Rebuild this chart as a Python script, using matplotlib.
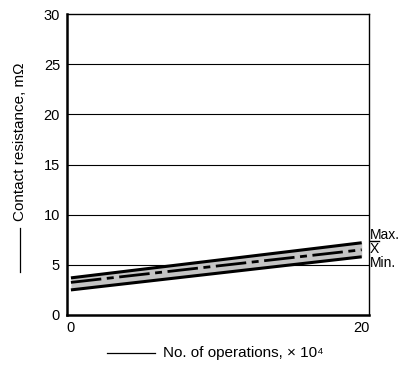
import matplotlib
matplotlib.use("Agg")
from matplotlib import pyplot as plt
from matplotlib.lines import Line2D

plt.rcParams['font.family'] = ['Liberation Sans', 'DejaVu Sans']

# contact resistance vs. operations (x 10^4)
ops = [0, 20]
r_max = [3.7, 7.2]
r_mean = [3.25, 6.5]
r_min = [2.5, 5.8]
y_ticks = [0, 5, 10, 15, 20, 25, 30]
x_ticks = [0, 20]

fig = plt.figure(figsize=(4.05, 3.65), dpi=100)
ax = fig.add_axes([0.1654, 0.137, 0.7457, 0.8246])

for y in y_ticks[1:-1]:
    ax.axhline(y, color='black', lw=0.8, zorder=1)

ax.fill_between(ops, r_min, r_max, color='#c4c4c4', lw=0, zorder=2)
ax.plot(ops, r_max, color='black', lw=2.2, solid_capstyle='butt', zorder=3)
ax.plot(ops, r_min, color='black', lw=2.2, solid_capstyle='butt', zorder=3)
ax.plot(ops, r_mean, color='black', lw=2.0, linestyle=(0, (11, 2, 2.5, 2)),
        zorder=3)

ax.set_xlim(-0.27, 20.5)
ax.set_ylim(0, 30)
ax.set_yticks(y_ticks)
ax.set_xticks(x_ticks)
ax.tick_params(length=0, labelsize=10.5, pad=5)
ax.tick_params(axis='x', pad=4)

ax.spines['left'].set_linewidth(1.8)
ax.spines['bottom'].set_linewidth(1.8)
ax.spines['top'].set_linewidth(1.0)
ax.spines['right'].set_linewidth(1.0)

# end labels; the bar over X is drawn as its own line
ax.text(20.55, 8.0, 'Max.', fontsize=10, va='center', ha='left')
ax.text(20.55, 6.55, 'X', fontsize=10, va='center', ha='left')
ax.plot([20.6, 21.2], [7.4, 7.4], color='black', lw=1.0, clip_on=False)
ax.text(20.55, 5.15, 'Min.', fontsize=10, va='center', ha='left')

# axis titles with leading arrow lines
fig.text(20 / 405, 1 - 142 / 365, 'Contact resistance, m\u03a9', rotation=90,
         fontsize=11, ha='center', va='center')
fig.add_artist(Line2D([20 / 405, 20 / 405], [1 - 272 / 365, 1 - 228 / 365],
                      color='black', lw=0.9))
fig.text(163 / 405, 1 - 353 / 365, 'No. of operations, \u00d7 10\u2074',
         fontsize=11, ha='left', va='center')
fig.add_artist(Line2D([107 / 405, 155 / 405], [1 - 353 / 365, 1 - 353 / 365],
                      color='black', lw=0.9))

fig.savefig('out.png', dpi=100)
